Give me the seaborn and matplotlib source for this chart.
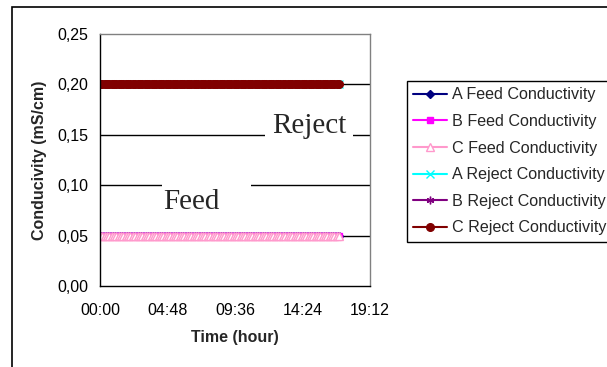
import numpy as np
import matplotlib
matplotlib.use("Agg")
import matplotlib.pyplot as plt
from matplotlib.patches import Rectangle
import seaborn as sns

# Readings: one sample every 10 minutes from 00:00 to 17:00
sample_minutes = 10
run_minutes = 17 * 60
time_h = np.arange(0, run_minutes + 1, sample_minutes) / 60.0
n = len(time_h)

# Conductivity (mS/cm) for the three units, feed and reject streams
a_feed = np.full(n, 0.05)
b_feed = np.full(n, 0.05)
c_feed = np.full(n, 0.05)
a_reject = np.full(n, 0.20)
b_reject = np.full(n, 0.20)
c_reject = np.full(n, 0.20)

series_labels = ["A Feed Conductivity", "B Feed Conductivity", "C Feed Conductivity",
                 "A Reject Conductivity", "B Reject Conductivity", "C Reject Conductivity"]
series_values = [a_feed, b_feed, c_feed, a_reject, b_reject, c_reject]

x_ticks = [0, 4.8, 9.6, 14.4, 19.2]
x_tick_labels = ["00:00", "04:48", "09:36", "14:24", "19:12"]
y_ticks = [0.00, 0.05, 0.10, 0.15, 0.20, 0.25]
y_tick_labels = ["0,00", "0,05", "0,10", "0,15", "0,20", "0,25"]

sns.set_style("white")
plt.rcParams["font.family"] = ["Liberation Sans", "DejaVu Sans"]

# line colour, marker, marker face, marker edge, marker size
styles = [
    dict(color="#000080", marker="D", markerfacecolor="#000080", markeredgecolor="#000080", markersize=4.5),
    dict(color="#FF00FF", marker="s", markerfacecolor="#FF00FF", markeredgecolor="#FF00FF", markersize=4.5),
    dict(color="#FF99CC", marker="^", markerfacecolor="white", markeredgecolor="#FF99CC", markersize=5.5),
    dict(color="#00FFFF", marker="x", markerfacecolor="#00FFFF", markeredgecolor="#00FFFF", markersize=5.5),
    dict(color="#800080", marker=(6, 2, 0), markerfacecolor="#800080", markeredgecolor="#800080", markersize=5.5),
    dict(color="#800000", marker="o", markerfacecolor="#800000", markeredgecolor="#800000", markersize=5.5),
]

W, H = 607, 367
fig = plt.figure(figsize=(W / 100, H / 100), dpi=100)
fig.patch.set_facecolor("white")

# plot area in pixels: left 100, right 370, top 34, bottom 286
ax = fig.add_axes([100 / W, 1 - 286 / H, 270 / W, 252 / H])

for label, vals, st in zip(series_labels, series_values, styles):
    sns.lineplot(x=time_h, y=vals, ax=ax, label=label, estimator=None,
                 linewidth=1.5, markeredgewidth=1.0, **st)

ax.set_xlim(0, 19.2)
ax.set_ylim(0, 0.25)
ax.set_xticks(x_ticks)
ax.set_xticklabels(x_tick_labels)
ax.set_yticks(y_ticks)
ax.set_yticklabels(y_tick_labels)
ax.tick_params(axis="both", which="major", labelsize=11.5, colors="black",
               direction="out", length=3.5, width=1)
ax.tick_params(axis="x", pad=9)
ax.tick_params(axis="y", pad=5)

for side in ("left", "bottom"):
    ax.spines[side].set_color("black")
    ax.spines[side].set_linewidth(1.0)
for side in ("top", "right"):
    ax.spines[side].set_color("#808080")
    ax.spines[side].set_linewidth(1.0)

ax.set_axisbelow(True)
ax.yaxis.grid(True, color="black", linewidth=1.0)
ax.xaxis.grid(False)
for gl, v in zip(ax.yaxis.get_gridlines(), y_ticks):
    gl.set_visible(0 < v < 0.25)

ax.set_xlabel("Time (hour)", fontsize=11.5, fontweight="bold")
ax.set_ylabel("Conducivity (mS/cm)", fontsize=11.5, fontweight="bold")
ax.xaxis.set_label_coords(0.5, -0.175)
ax.yaxis.set_label_coords(-0.196, 0.5)

# stream labels
serif = ["Liberation Serif", "DejaVu Serif"]
ax.text(14.86, 0.152, "Reject", family=serif, fontsize=21,
        ha="center", va="baseline", zorder=3,
        bbox=dict(facecolor="white", edgecolor="none", pad=5))
ax.add_patch(Rectangle((4.41, 0.094), 10.74 - 4.41, 0.012, facecolor="white",
                       edgecolor="none", zorder=1))
ax.text(6.5, 0.0765, "Feed", family=serif, fontsize=21,
        ha="center", va="baseline", zorder=3)

handles, labels = ax.get_legend_handles_labels()
if ax.get_legend() is not None:
    ax.get_legend().remove()
leg = fig.legend(handles, labels, loc="upper left",
                 bbox_to_anchor=(407 / W, 1 - 81 / H), bbox_transform=fig.transFigure,
                 borderaxespad=0, frameon=True, fancybox=False, shadow=False,
                 edgecolor="black", framealpha=1, fontsize=11.6,
                 handlelength=2.1, handletextpad=0.3, labelspacing=0.72,
                 borderpad=0.4)
leg.get_frame().set_linewidth(1.0)

# chart-area border
fig.add_artist(Rectangle((12 / W, -0.2), 1.5, 1 - 7 / H + 0.2, transform=fig.transFigure,
                         fill=False, edgecolor="black", linewidth=1.2))

fig.savefig("out.png", dpi=100)
